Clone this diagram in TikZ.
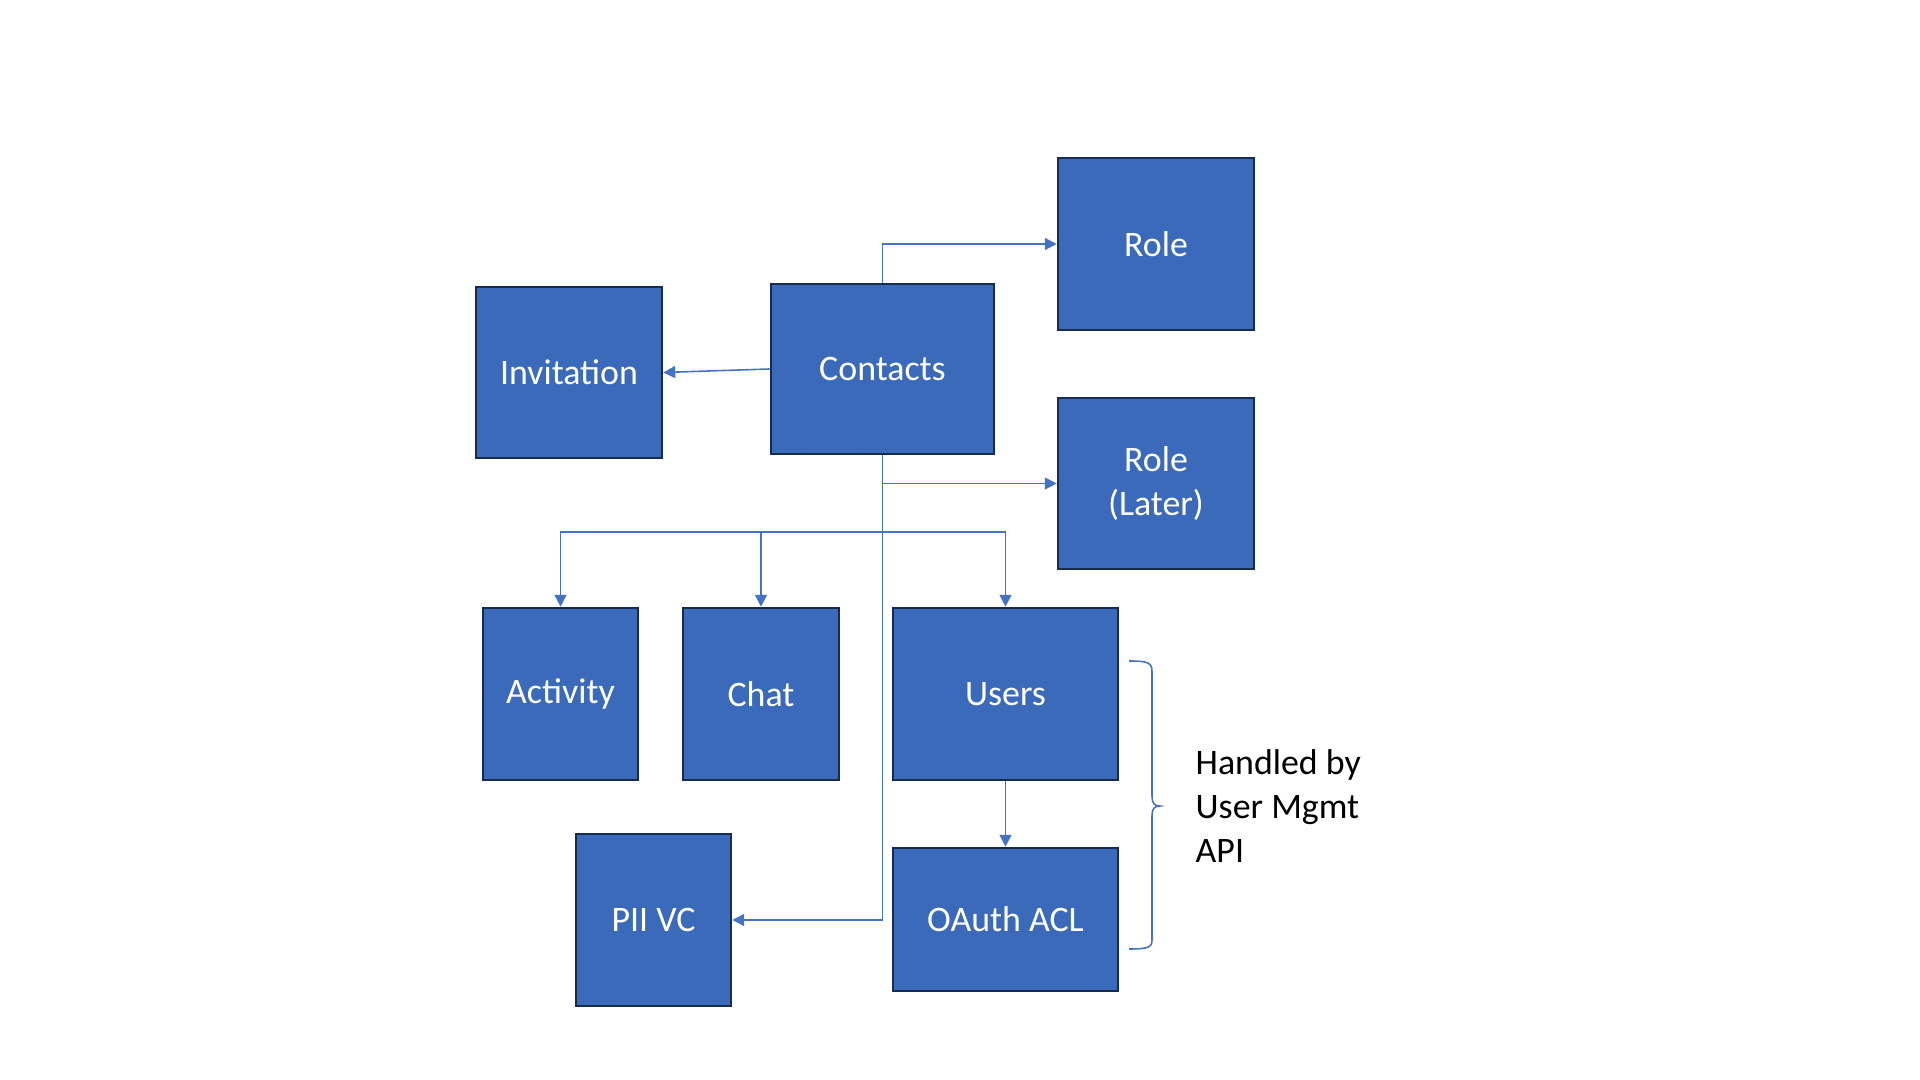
\documentclass[tikz,border=0pt]{standalone}
\usepackage{fontspec}
\setmainfont{Carlito}
\usetikzlibrary{arrows.meta}

\definecolor{boxfill}{HTML}{3A6AB9}
\definecolor{boxline}{HTML}{172B4D}
\definecolor{linkblue}{HTML}{4472C4}

\begin{document}
\begin{tikzpicture}[x=0.01cm, y=-0.01cm,
  box/.style={draw=boxline, fill=boxfill, line width=0.7pt, text=white, inner sep=0pt,
    align=center, font=\fontsize{10.2}{12.4}\selectfont},
  link/.style={draw=linkblue, line width=0.45pt, -{Triangle[length=3.4pt,width=3.4pt]}}]
\useasboundingbox (0,0) rectangle (1920,1080);

\node[box, minimum width=1.96cm, minimum height=1.72cm] (role) at (1156,244) {Role};
\node[box, minimum width=1.96cm, minimum height=1.71cm] (rolelater) at (1156,483.5) {Role\\(Later)};
\node[box, minimum width=1.86cm, minimum height=1.71cm] (invitation) at (569,372.5) {Invitation};
\node[box, minimum width=2.23cm, minimum height=1.70cm] (contacts) at (882.5,369) {Contacts};
\node[box, minimum width=1.55cm, minimum height=1.72cm] (activity) at (560.5,694) {Activity};
\node[box, minimum width=1.56cm, minimum height=1.72cm] (chat) at (761,694) {Chat};
\node[box, minimum width=2.25cm, minimum height=1.72cm] (users) at (1005.5,694) {Users};
\node[box, minimum width=2.25cm, minimum height=1.43cm] (oauth) at (1005.5,919.5) {OAuth ACL};
\node[box, minimum width=1.55cm, minimum height=1.72cm] (pii) at (653.5,920) {PII VC};

\draw[link] (contacts.north) |- (role.west);
\draw[link] (contacts.west) -- (invitation.east);
\draw[link] (contacts.south) |- (rolelater.west);

% fan out to the row below
\coordinate (bus) at (882.5,532);
\draw[linkblue, line width=0.45pt] (contacts.south) -- (bus);
\foreach \t in {activity, chat, users}
  \draw[link] (bus) -| (\t.north);

\draw[link] (contacts.south) |- (pii.east);
\draw[link] (users) -- (oauth);

% brace round users and oauth
\draw[linkblue, line width=0.45pt] (1129,661) .. controls (1149,661) and (1152,663) .. (1152,672)
  -- (1152,796) .. controls (1152,803) and (1154,806) .. (1160,806)
  .. controls (1154,806) and (1152,809) .. (1152,816)
  -- (1152,940) .. controls (1152,947) and (1149,949) .. (1129,949);
\node[anchor=west, align=left, inner sep=0pt, font=\fontsize{10.2}{12.4}\selectfont]
  (note) at (1195,806) {Handled by\\User Mgmt\\API};
\end{tikzpicture}
\end{document}
